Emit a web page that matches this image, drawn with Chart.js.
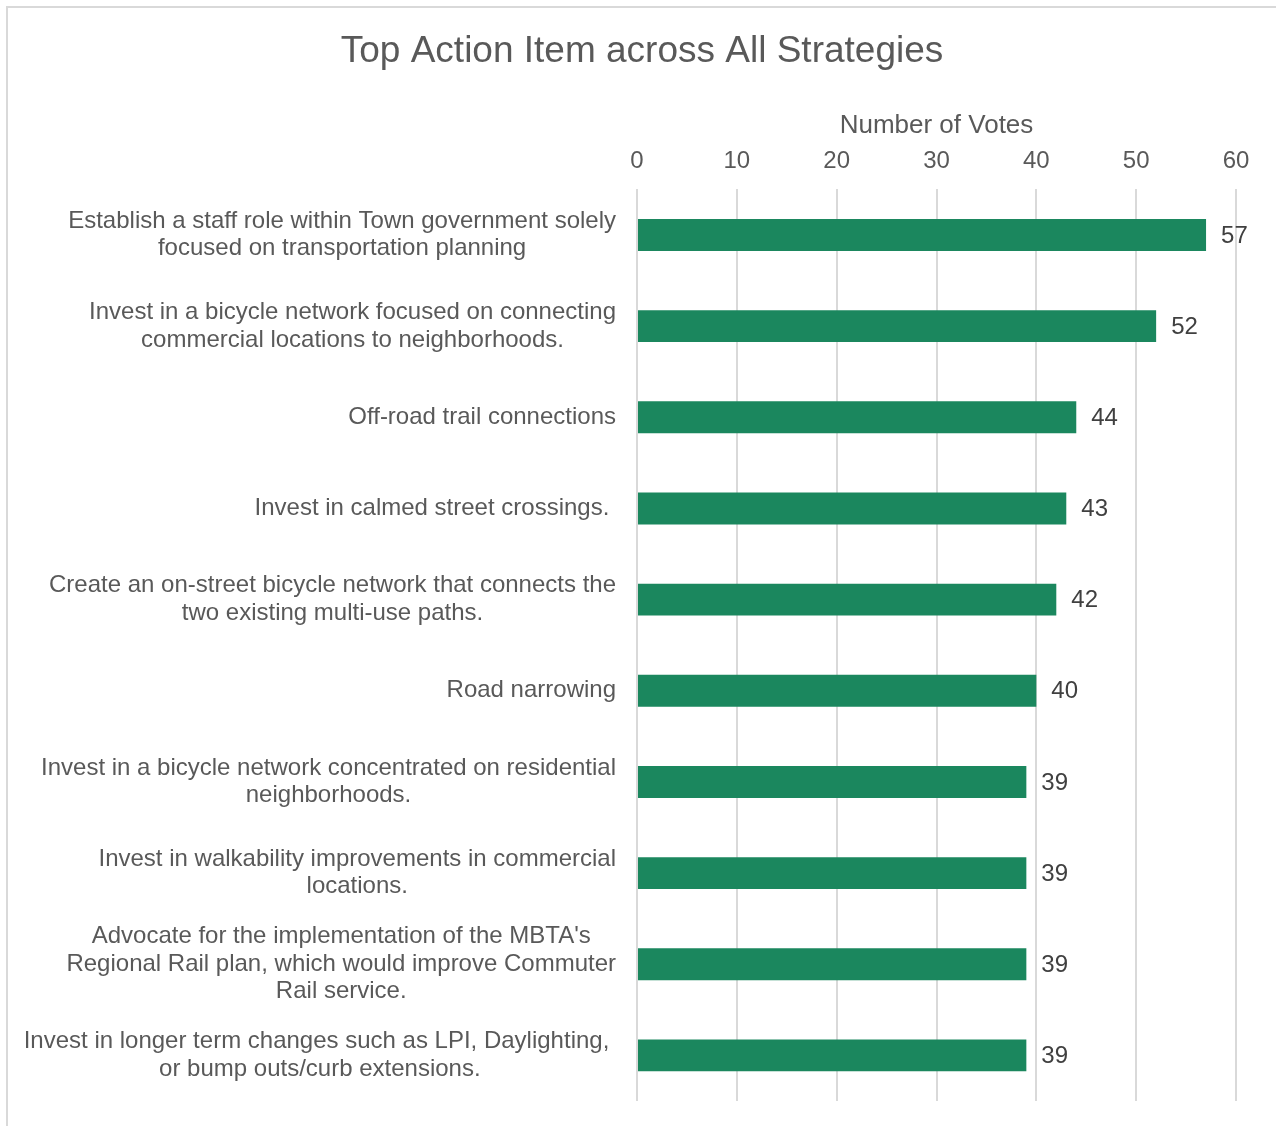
<!DOCTYPE html>
<html>
<head>
<meta charset="utf-8">
<script src="https://cdn.jsdelivr.net/npm/chart.js@4.4.1/dist/chart.umd.min.js"></script>
<style>
  html, body { margin: 0; padding: 0; background: #fff; }
  #wrap { position: relative; width: 1276px; height: 1126px; }
</style>
</head>
<body>
<div id="wrap"><canvas id="votesChart" width="1276" height="1126"></canvas></div>
<script>
// action items, each one an array of wrapped lines
var actionItems = [
  ['Establish a staff role within Town government solely', 'focused on transportation planning'],
  ['Invest in a bicycle network focused on connecting', 'commercial locations to neighborhoods.'],
  ['Off-road trail connections'],
  ['Invest in calmed street crossings. '],
  ['Create an on-street bicycle network that connects the', 'two existing multi-use paths.'],
  ['Road narrowing'],
  ['Invest in a bicycle network concentrated on residential', 'neighborhoods.'],
  ['Invest in walkability improvements in commercial', 'locations.'],
  ["Advocate for the implementation of the MBTA's", 'Regional Rail plan, which would improve Commuter', 'Rail service.'],
  ['Invest in longer term changes such as LPI, Daylighting, ', 'or bump outs/curb extensions.']
];
var voteCounts = [57, 52, 44, 43, 42, 40, 39, 39, 39, 39];
var voteTicks = [0, 10, 20, 30, 40, 50, 60];

var FONT = '"Liberation Sans", Arial, sans-serif';
var GREY_TEXT = '#595959';

// white background plus the thin frame line on the left and top
var frame = {
  id: 'frame',
  beforeDraw: function (chart) {
    var ctx = chart.ctx;
    ctx.save();
    ctx.fillStyle = '#fff';
    ctx.fillRect(0, 0, chart.width, chart.height);
    ctx.strokeStyle = '#d9d9d9';
    ctx.lineWidth = 2;
    ctx.beginPath();
    ctx.moveTo(7, chart.height);
    ctx.lineTo(7, 7);
    ctx.lineTo(chart.width, 7);
    ctx.stroke();
    ctx.restore();
  }
};

// category labels: block right aligned next to the axis, lines centred inside the block
var itemLabels = {
  id: 'itemLabels',
  afterDraw: function (chart) {
    var ctx = chart.ctx;
    var yScale = chart.scales.y;
    var rightEdge = chart.chartArea.left - 21;
    var lineGap = 27.5;
    ctx.save();
    ctx.font = '24px ' + FONT;
    ctx.fillStyle = GREY_TEXT;
    ctx.textAlign = 'center';
    ctx.textBaseline = 'middle';
    actionItems.forEach(function (lines, i) {
      var widest = 0;
      lines.forEach(function (l) { widest = Math.max(widest, ctx.measureText(l).width); });
      var cx = rightEdge - widest / 2;
      var cy = yScale.getPixelForValue(i);
      var top = cy - (lines.length - 1) * lineGap / 2;
      lines.forEach(function (l, j) {
        ctx.fillText(l, cx, top + j * lineGap);
      });
    });
    ctx.restore();
  }
};

// vote count written just past the end of every bar
var barValues = {
  id: 'barValues',
  afterDatasetsDraw: function (chart) {
    var ctx = chart.ctx;
    var meta = chart.getDatasetMeta(0);
    ctx.save();
    ctx.font = '24px ' + FONT;
    ctx.fillStyle = '#404040';
    ctx.textAlign = 'left';
    ctx.textBaseline = 'middle';
    meta.data.forEach(function (bar, i) {
      ctx.fillText(String(voteCounts[i]), bar.x + 15, bar.y + 1);
    });
    ctx.restore();
  }
};

new Chart(document.getElementById('votesChart'), {
  type: 'bar',
  data: {
    labels: actionItems,
    datasets: [{
      data: voteCounts,
      backgroundColor: '#1b875e',
      borderWidth: 0,
      categoryPercentage: 1,
      barPercentage: 0.35
    }]
  },
  options: {
    indexAxis: 'y',
    responsive: false,
    animation: false,
    layout: { padding: { left: 48, right: 40, top: 0, bottom: 25 } },
    plugins: {
      legend: { display: false },
      tooltip: { enabled: false },
      title: {
        display: true,
        text: 'Top Action Item across All Strategies',
        color: GREY_TEXT,
        font: { family: FONT, size: 37, weight: 'normal' },
        padding: { top: 30, bottom: 30 }
      }
    },
    scales: {
      x: {
        position: 'top',
        min: 0,
        max: 60,
        afterBuildTicks: function (scale) {
          scale.ticks = voteTicks.map(function (v) { return { value: v }; });
        },
        afterFit: function (scale) {
          scale.height = 85;
        },
        grid: { color: '#d9d9d9', lineWidth: 2, drawTicks: false },
        border: { display: false },
        ticks: {
          color: GREY_TEXT,
          padding: 14,
          font: { family: FONT, size: 24 }
        },
        title: {
          display: true,
          text: 'Number of Votes',
          color: GREY_TEXT,
          font: { family: FONT, size: 26 },
          padding: { top: 6, bottom: 5 }
        }
      },
      y: {
        // room on the left for the wrapped item labels drawn by itemLabels
        afterFit: function (scale) {
          scale.width = 589;
        },
        grid: { display: false },
        border: { display: false },
        ticks: { display: false }
      }
    }
  },
  plugins: [frame, itemLabels, barValues]
});
</script>
</body>
</html>
